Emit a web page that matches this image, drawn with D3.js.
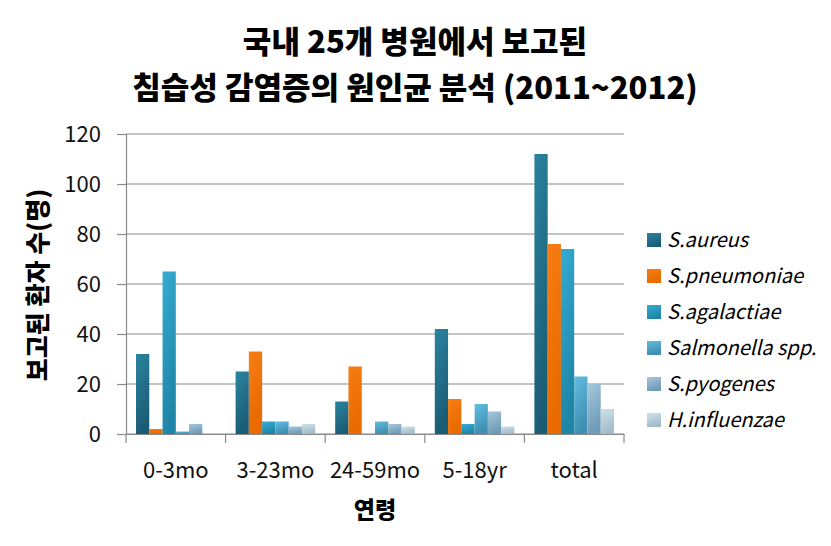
<!DOCTYPE html>
<html><head><meta charset="utf-8">
<script src="https://cdn.jsdelivr.net/npm/d3@7"></script>
<style>body{margin:0;background:#fff}svg{display:block}</style>
</head><body>
<script>
const categories = ["0-3mo","3-23mo","24-59mo","5-18yr","total"];
const seriesNames = ["S.aureus","S.pneumoniae","S.agalactiae","Salmonella spp.","S.pyogenes","H.influenzae"];
const sAureus      = [32, 25, 13, 42, 112];
const sPneumoniae  = [2, 33, 27, 14, 76];
const sAgalactiae  = [65, 5, 0, 4, 74];
const salmonella   = [1, 5, 5, 12, 23];
const sPyogenes    = [4, 3, 4, 9, 20];
const hInfluenzae  = [0, 4, 3, 3, 10];
const yTicks = [0, 20, 40, 60, 80, 100, 120];
const titleLines = ["국내 25개 병원에서 보고된", "침습성 감염증의 원인균 분석 (2011~2012)"];
const yTitle = "보고된 환자 수(명)";
const xTitle = "연령";

const seriesValues = [sAureus, sPneumoniae, sAgalactiae, salmonella, sPyogenes, hInfluenzae];
const colors = [
  ["#2b84a0","#1b5c75"],
  ["#f77d12","#e86a00"],
  ["#35acd2","#1f85a6"],
  ["#62bde0","#3f8fb2"],
  ["#a6c8dc","#6e9bb6"],
  ["#d0e2ea","#a2bccb"]
];

const W = 831, H = 546;
const svg = d3.select("body").append("svg").attr("width", W).attr("height", H);
const font = "'Noto Sans CJK KR','Noto Sans',sans-serif";

const defs = svg.append("defs");
colors.forEach((c, i) => {
  const g = defs.append("linearGradient").attr("id", "g" + i)
    .attr("x1", "0").attr("y1", "0").attr("x2", "0.3").attr("y2", "1");
  g.append("stop").attr("offset", "0").attr("stop-color", c[0]);
  g.append("stop").attr("offset", "1").attr("stop-color", c[1]);
});

const pL = 126, pR = 624, pT = 134, pB = 434;
const x0 = d3.scaleBand().domain(categories).range([pL, pR]).paddingInner(0).paddingOuter(0);
const x1 = d3.scaleBand().domain(seriesNames).range([10, x0.bandwidth() - 10]).padding(0);
const y = d3.scaleLinear().domain([0, 120]).range([pB, pT]);

// gridlines
svg.append("g").selectAll("line").data(yTicks).join("line")
  .attr("x1", pL).attr("x2", pR)
  .attr("y1", d => y(d)).attr("y2", d => y(d))
  .attr("stroke", "#8a8a8a").attr("stroke-width", 1.2);

// y axis
const yAxis = svg.append("g").attr("transform", `translate(${pL},0)`)
  .call(d3.axisLeft(y).tickValues(yTicks).tickSize(9).tickPadding(16));
yAxis.select(".domain").attr("stroke", "#8a8a8a").attr("stroke-width", 1.2);
yAxis.selectAll(".tick line").attr("stroke", "#8a8a8a").attr("stroke-width", 1.2);
yAxis.selectAll("text").attr("font-family", font).attr("font-size", 22).attr("fill", "#111");

// x axis
const xAxis = svg.append("g").attr("transform", `translate(0,${pB})`)
  .call(d3.axisBottom(x0).tickSize(0).tickPadding(28));
xAxis.select(".domain").attr("stroke", "#8a8a8a").attr("stroke-width", 1.2);
xAxis.selectAll("text").attr("font-family", font).attr("font-size", 22).attr("fill", "#111");
// category separators
svg.append("g").selectAll("line").data(d3.range(categories.length + 1)).join("line")
  .attr("x1", i => pL + i * x0.step()).attr("x2", i => pL + i * x0.step())
  .attr("y1", pB).attr("y2", pB + 9)
  .attr("stroke", "#8a8a8a").attr("stroke-width", 1.2);

// bars
const groups = svg.append("g").selectAll("g").data(categories).join("g")
  .attr("transform", d => `translate(${x0(d)},0)`);
groups.selectAll("rect").data((d, ci) => seriesNames.map((s, si) => ({ s, si, v: seriesValues[si][ci] })))
  .join("rect")
  .attr("x", d => x1(d.s)).attr("width", x1.bandwidth())
  .attr("y", d => y(d.v)).attr("height", d => y(0) - y(d.v))
  .attr("fill", d => `url(#g${d.si})`);

// titles
svg.append("g").selectAll("text").data(titleLines).join("text")
  .attr("x", 415).attr("y", (d, i) => 53 + i * 46)
  .attr("text-anchor", "middle").attr("font-family", font)
  .attr("font-weight", 900).attr("font-size", 31).attr("fill", "#000")
  .text(d => d);

svg.append("text").attr("transform", "translate(47,285) rotate(-90)")
  .attr("text-anchor", "middle").attr("font-family", font).attr("font-weight", 900)
  .attr("font-size", 25).attr("fill", "#000").text(yTitle);

svg.append("text").attr("x", 375).attr("y", 518)
  .attr("text-anchor", "middle").attr("font-family", font).attr("font-weight", 900)
  .attr("font-size", 23).attr("fill", "#000").text(xTitle);

// legend
const lg = svg.append("g").selectAll("g").data(seriesNames).join("g")
  .attr("transform", (d, i) => `translate(647,${240 + i * 36})`);
lg.append("rect").attr("x", 0).attr("y", -7).attr("width", 14).attr("height", 14)
  .attr("fill", (d, i) => `url(#g${i})`);
lg.append("text").attr("x", 20).attr("y", 0).attr("dy", "0.35em")
  .attr("font-family", font).attr("font-style", "italic").attr("font-size", 20).attr("fill", "#000")
  .text(d => d);
</script>
</body></html>
